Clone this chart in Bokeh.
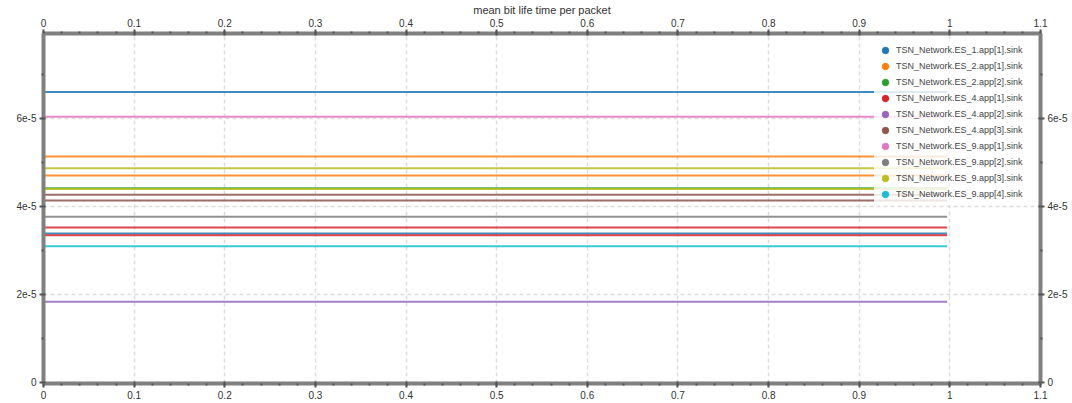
from bokeh.plotting import figure
from bokeh.models import (LinearAxis, FixedTicker, CustomJSTickFormatter, Range1d,
                          Legend, LegendItem)
from bokeh.embed import file_html
from bokeh.resources import INLINE

# ---- data ----
series_names = [
    "TSN_Network.ES_1.app[1].sink",
    "TSN_Network.ES_2.app[1].sink",
    "TSN_Network.ES_2.app[2].sink",
    "TSN_Network.ES_4.app[1].sink",
    "TSN_Network.ES_4.app[2].sink",
    "TSN_Network.ES_4.app[3].sink",
    "TSN_Network.ES_9.app[1].sink",
    "TSN_Network.ES_9.app[2].sink",
    "TSN_Network.ES_9.app[3].sink",
    "TSN_Network.ES_9.app[4].sink",
]
series_colors = ["#1f77b4", "#ff7f0e", "#2ca02c", "#d62728", "#9467bd",
                 "#8c564b", "#e377c2", "#7f7f7f", "#bcbd22", "#17becf"]
# horizontal levels (mean bit life time, seconds) per series
series_levels = [
    [6.59e-5, 3.38e-5],
    [5.13e-5, 4.70e-5],
    [4.41e-5],
    [3.52e-5, 3.34e-5],
    [1.83e-5],
    [4.26e-5, 4.13e-5],
    [6.03e-5],
    [3.76e-5],
    [4.86e-5, 4.39e-5],
    [3.09e-5],
]
x_start = 0.0
x_end = 0.997

x_ticks = [0, 0.1, 0.2, 0.3, 0.4, 0.5, 0.6, 0.7, 0.8, 0.9, 1.0, 1.1]
x_minor = [round(i * 0.02, 2) for i in range(0, 56)]
y_ticks = [0, 2e-5, 4e-5, 6e-5]
y_minor = [1e-5, 3e-5, 5e-5, 7e-5]

FONT = "Liberation Sans"
AXIS_COLOR = "#808080"
TICK_COLOR = "#555555"
LABEL_COLOR = "#333333"
NAN = float("nan")

p = figure(width=1072, height=403, output_backend="svg", toolbar_location=None,
           x_range=Range1d(0, 1.1), y_range=Range1d(-0.023e-5, 7.92e-5),
           min_border_left=43, min_border_right=32, min_border_top=33,
           min_border_bottom=20, outline_line_color=None)
p.title.text = "mean bit life time per packet"
p.title.align = "center"
p.title.text_font = FONT
p.title.text_font_size = "11px"
p.title.text_font_style = "normal"
p.title.text_color = LABEL_COLOR
p.title.standoff = 0
p.title.offset = 0

p.add_layout(LinearAxis(), "above")
p.add_layout(LinearAxis(), "right")

xfmt = CustomJSTickFormatter(code="return String(Math.round(tick*10)/10);")
yfmt = CustomJSTickFormatter(code="if (Math.abs(tick) < 1e-9) return '0'; return Math.round(tick*1e5) + 'e-5';")

for ax in p.xaxis:
    ax.ticker = FixedTicker(ticks=x_ticks, minor_ticks=x_minor)
    ax.formatter = xfmt
for ax in p.yaxis:
    ax.ticker = FixedTicker(ticks=y_ticks, minor_ticks=y_minor)
    ax.formatter = yfmt
for ax in p.xaxis + p.yaxis:
    ax.axis_line_color = AXIS_COLOR
    ax.axis_line_width = 4
    ax.major_tick_line_color = TICK_COLOR
    ax.major_tick_line_width = 2
    ax.major_tick_out = 4
    ax.major_tick_in = 2
    ax.minor_tick_line_color = TICK_COLOR
    ax.minor_tick_line_width = 2
    ax.minor_tick_out = 2
    ax.minor_tick_in = 0
    ax.major_label_text_font = FONT
    ax.major_label_text_font_size = "10px"
    ax.major_label_text_color = LABEL_COLOR
    ax.major_label_standoff = 3

p.xgrid.ticker = FixedTicker(ticks=x_ticks)
p.ygrid.ticker = FixedTicker(ticks=y_ticks)
for g in (p.xgrid, p.ygrid):
    g.grid_line_color = "#dddddd"
    g.grid_line_width = 1.5
    g.grid_line_dash = "4 3"

items = []
for name, color, levels in zip(series_names, series_colors, series_levels):
    for lv in levels:
        p.line(x=[x_start, x_end], y=[lv, lv], line_color=color,
               line_width=2, line_alpha=0.85)
    r = p.scatter(x=[NAN], y=[NAN], marker="circle", fill_color=color,
                  line_color=color, size=6)
    items.append(LegendItem(label=name, renderers=[r]))

legend = Legend(items=items, location="top_right")
legend.background_fill_color = "white"
legend.background_fill_alpha = 0.82
legend.border_line_alpha = 0
legend.margin = 6
legend.padding = 3
legend.spacing = 0
legend.glyph_width = 16
legend.glyph_height = 16
legend.label_height = 16
legend.label_width = 135
legend.label_standoff = 3
legend.label_text_font = FONT
legend.label_text_font_size = "9px"
legend.label_text_color = "#444444"
p.add_layout(legend, "center")

open("out.html", "w").write(file_html(p, INLINE))
